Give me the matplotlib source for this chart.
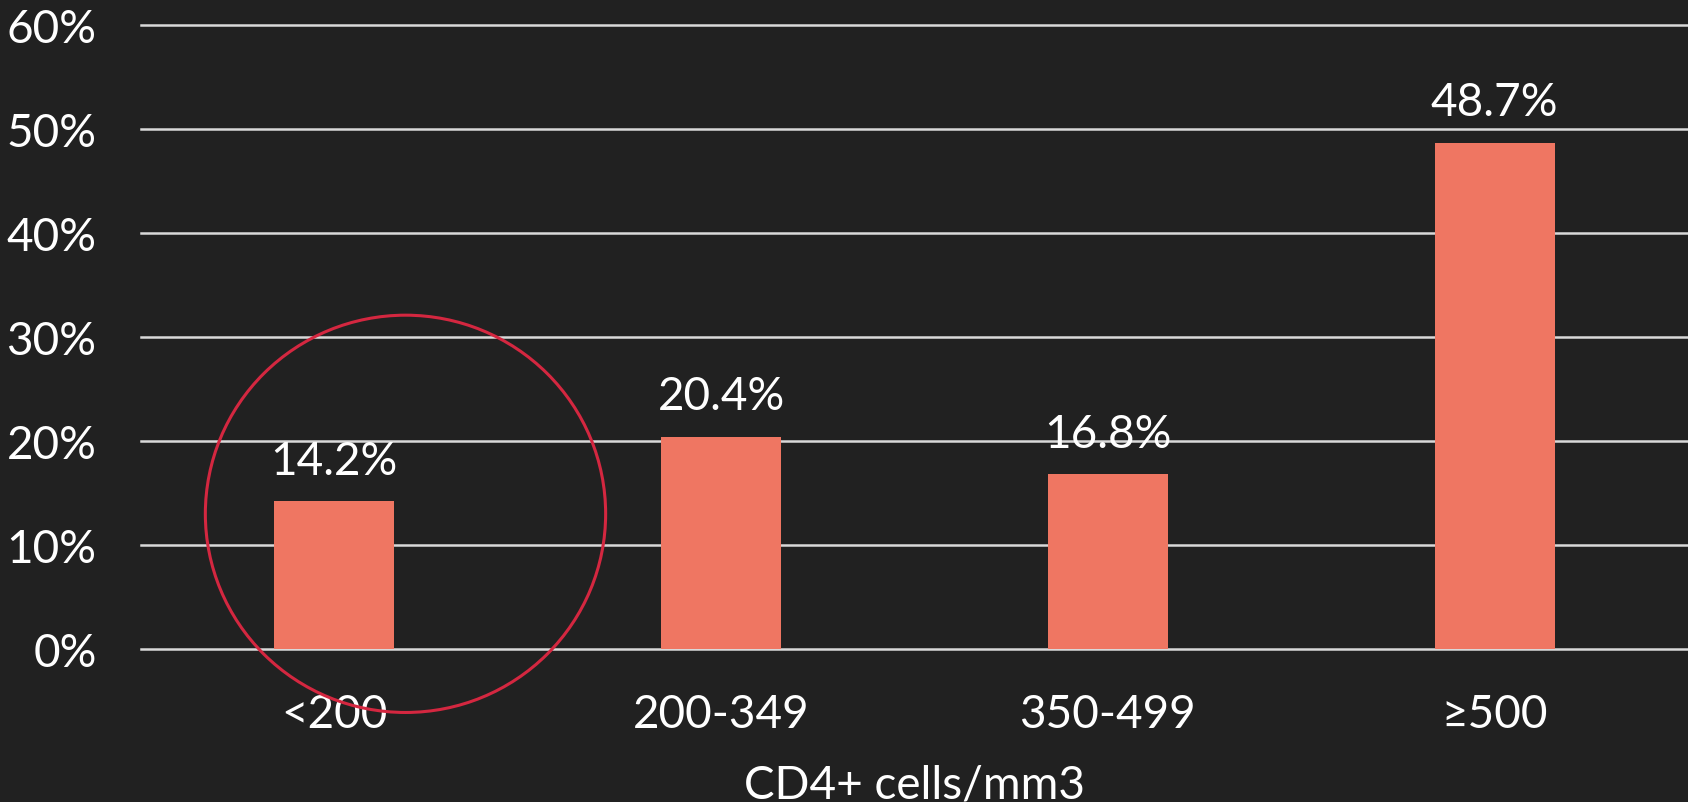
import matplotlib
matplotlib.use('Agg')
import matplotlib.pyplot as plt
from matplotlib.patches import Ellipse
from matplotlib.ticker import PercentFormatter
import numpy as np

# ===== Data =====
categories = ['<200', '200-349', '350-499', '≥500']
values = [14.2, 20.4, 16.8, 48.7]
yticks = [0, 10, 20, 30, 40, 50, 60]

BG = '#212121'
BAR = '#EF7662'
TXT = '#FFFFFF'
FS = 33

plt.rcParams['font.family'] = ['Lato', 'DejaVu Sans']

fig = plt.figure(figsize=(16.88, 8.03), dpi=100, facecolor=BG)
ax = fig.add_axes([0.0835, 0.1905, 0.9165, 0.7771], facecolor=BG)

x = np.arange(len(categories))
bars = ax.bar(x, values, width=0.31, color=BAR, zorder=3)

for xi, v in zip(x, values):
    ax.text(xi, v + 1.9, f'{v:.1f}%', ha='center', va='bottom',
            color=TXT, fontsize=FS)

ax.set_xlim(-0.5, len(categories) - 0.5)
ax.set_ylim(0, 60)
ax.set_yticks(yticks)
ax.yaxis.set_major_formatter(PercentFormatter(decimals=0))
ax.set_xticks(x)
ax.set_xticklabels(categories)

ax.grid(axis='y', color='#D9D9D9', lw=1.8, zorder=1)
ax.grid(axis='x', visible=False)
for gl in ax.get_ygridlines():
    gl.set_clip_on(False)
for s in ax.spines.values():
    s.set_visible(False)
ax.tick_params(axis='both', length=0, colors=TXT, labelsize=FS)
ax.tick_params(axis='y', pad=32)
ax.tick_params(axis='x', pad=32)

ax.set_xlabel('CD4+ cells/mm3', color=TXT, fontsize=FS, labelpad=20)

# highlight circle around first category
circ = Ellipse((0.184, 13.0), width=1.035, height=38.2, fill=False,
               edgecolor='#D42740', lw=2.2, clip_on=False, zorder=4)
ax.add_patch(circ)

plt.savefig('out.png', dpi=100, facecolor=BG)
